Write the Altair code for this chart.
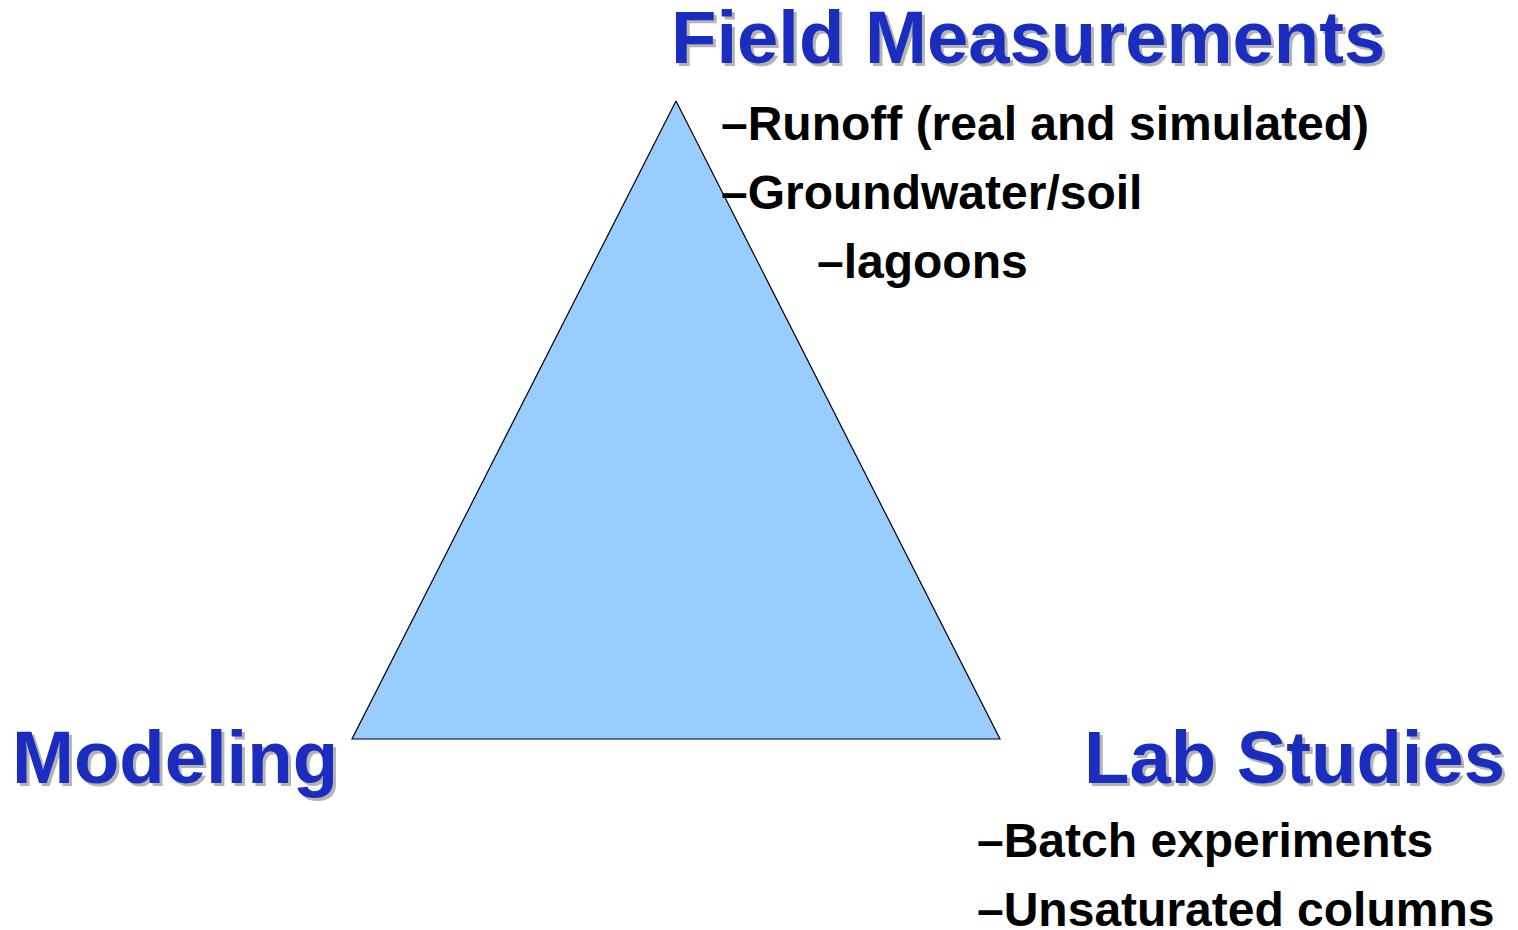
import altair as alt
import pandas as pd

# Triangle vertices (page pixel coordinates)
tri_x = [676, 1000, 352, 676]
tri_y = [101, 739, 739, 101]
tri_order = [0, 1, 2, 3]

# Corner titles
title_text = ["Field Measurements", "Modeling", "Lab Studies"]
title_x = [671, 12, 1084]
title_y = [63, 783, 783]

# Sub items
item_text = ["–Runoff (real and simulated)", "–Groundwater/soil", "–lagoons",
             "–Batch experiments", "–Unsaturated columns"]
item_x = [721, 721, 817, 977, 977]
item_y = [140, 209, 278, 857, 926]

W, H = 1502, 922
xs = alt.Scale(domain=[8, 8 + W], nice=False, zero=False)
ys = alt.Scale(domain=[8 + H, 8], nice=False, zero=False)

tri = pd.DataFrame({"x": tri_x, "y": tri_y, "o": tri_order})
titles = pd.DataFrame({"t": title_text, "x": title_x, "y": title_y})
items = pd.DataFrame({"t": item_text, "x": item_x, "y": item_y})

triangle = alt.Chart(tri).mark_line(
    filled=True, fill="#99CCFF", stroke="#000000", strokeWidth=1.2, interpolate="linear"
).encode(
    x=alt.X("x:Q", scale=xs, axis=None),
    y=alt.Y("y:Q", scale=ys, axis=None),
    order="o:Q",
)

font = "Liberation Sans"
TS = 74.3

shadow = alt.Chart(titles).mark_text(
    font=font, fontWeight="bold", fontSize=TS, align="left", baseline="alphabetic",
    color="#B4B4B4", dx=3, dy=3,
).encode(x=alt.X("x:Q", scale=xs, axis=None), y=alt.Y("y:Q", scale=ys, axis=None), text="t:N")

title_marks = alt.Chart(titles).mark_text(
    font=font, fontWeight="bold", fontSize=TS, align="left", baseline="alphabetic",
    color="#1A2DBE",
).encode(x=alt.X("x:Q", scale=xs, axis=None), y=alt.Y("y:Q", scale=ys, axis=None), text="t:N")

item_marks = alt.Chart(items).mark_text(
    font=font, fontWeight="bold", fontSize=48, align="left", baseline="alphabetic",
    color="#000000",
).encode(x=alt.X("x:Q", scale=xs, axis=None), y=alt.Y("y:Q", scale=ys, axis=None), text="t:N")

chart = alt.layer(triangle, shadow, title_marks, item_marks).properties(
    width=W, height=H, padding=0, background="#FFFFFF",
    autosize=alt.AutoSizeParams(type="none"),
).configure_view(stroke=None)

chart.save("out.html", embed_options={"renderer": "svg", "actions": False})
